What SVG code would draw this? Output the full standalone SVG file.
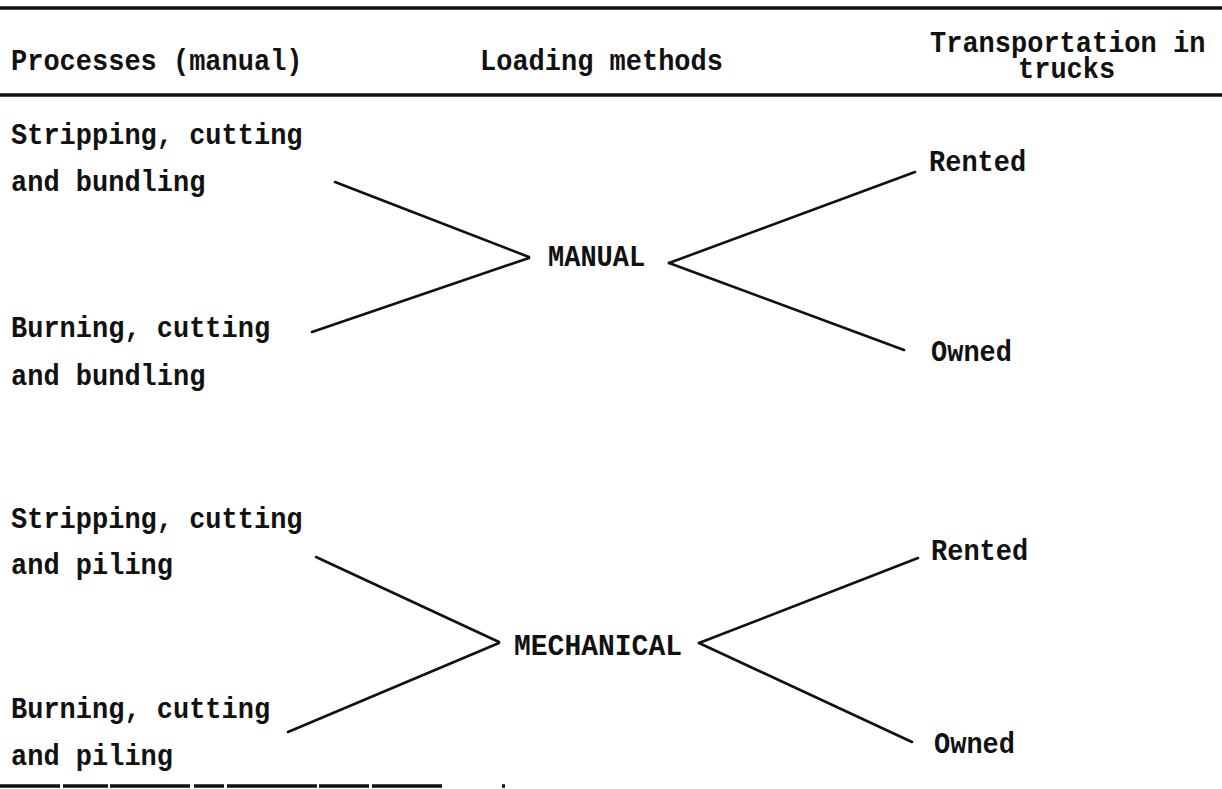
<svg xmlns="http://www.w3.org/2000/svg" width="1222" height="789" viewBox="0 0 1222 789">
<style>
.t{font-family:"Liberation Mono","Courier New",monospace;font-size:27px;font-weight:bold;fill:#111;}
.rule{stroke:#111;stroke-width:3.5;}
.c{stroke:#111;stroke-width:2.6;fill:none;stroke-linecap:round;}
</style>
<rect width="1222" height="789" fill="#fff"/>
<g id="rules">
<line class="rule" x1="0" y1="8" x2="1222" y2="8"/>
<line class="rule" x1="0" y1="95" x2="1222" y2="95"/>
<line class="rule" x1="0" y1="786" x2="507" y2="786" stroke-dasharray="60 3 45 2 80 4 30 3 90 2 50 3 70"/>
</g>
<g id="header">
<text class="t" transform="translate(11,70) scale(1,1.12)">Processes (manual)</text>
<text class="t" transform="translate(480,70) scale(1,1.12)">Loading methods</text>
<text class="t" transform="translate(930,52) scale(1,1.12)">Transportation in</text>
<text class="t" transform="translate(1018,78) scale(1,1.12)">trucks</text>
</g>
<g id="p1"><text class="t" transform="translate(11,144) scale(1,1.12)">Stripping, cutting</text><text class="t" transform="translate(11,191) scale(1,1.12)">and bundling</text></g>
<g id="p2"><text class="t" transform="translate(11,337) scale(1,1.12)">Burning, cutting</text><text class="t" transform="translate(11,385) scale(1,1.12)">and bundling</text></g>
<g id="manual"><text class="t" transform="translate(548,266) scale(1,1.12)">MANUAL</text></g>
<g id="r1"><text class="t" transform="translate(929,171) scale(1,1.12)">Rented</text></g>
<g id="o1"><text class="t" transform="translate(931,361) scale(1,1.12)">Owned</text></g>
<g id="p3"><text class="t" transform="translate(11,528) scale(1,1.12)">Stripping, cutting</text><text class="t" transform="translate(11,574) scale(1,1.12)">and piling</text></g>
<g id="p4"><text class="t" transform="translate(11,718) scale(1,1.12)">Burning, cutting</text><text class="t" transform="translate(11,765) scale(1,1.12)">and piling</text></g>
<g id="mechanical"><text class="t" transform="translate(514,655) scale(1,1.12)" textLength="168" lengthAdjust="spacingAndGlyphs">MECHANICAL</text></g>
<g id="r2"><text class="t" transform="translate(931,560) scale(1,1.12)">Rented</text></g>
<g id="o2"><text class="t" transform="translate(934,753) scale(1,1.12)">Owned</text></g>
<g id="connectors">
<line class="c" x1="335" y1="182" x2="529" y2="257"/>
<line class="c" x1="312" y1="332" x2="529" y2="258"/>
<line class="c" x1="669" y1="263" x2="915" y2="172"/>
<line class="c" x1="669" y1="263" x2="904" y2="350"/>
<line class="c" x1="316" y1="557" x2="499" y2="642"/>
<line class="c" x1="288" y1="732" x2="499" y2="643"/>
<line class="c" x1="699" y1="643" x2="918" y2="558"/>
<line class="c" x1="699" y1="643" x2="912" y2="742"/>
</g>
</svg>
